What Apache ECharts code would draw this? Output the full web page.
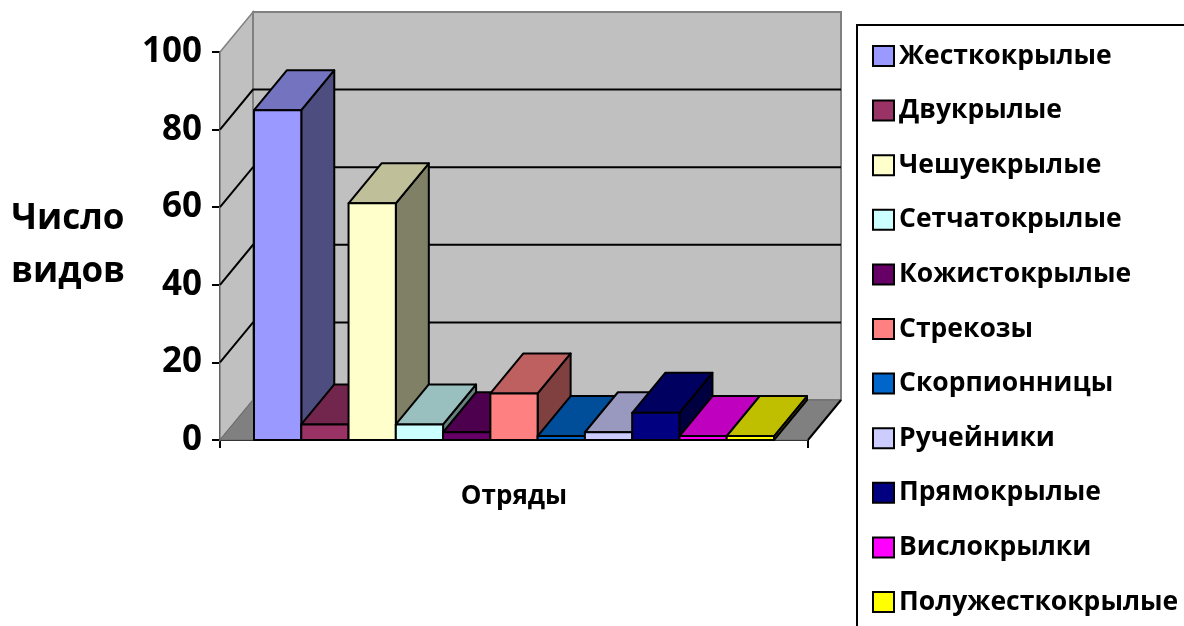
<!DOCTYPE html>
<html><head><meta charset="utf-8">
<script src="https://cdn.jsdelivr.net/npm/echarts@6/dist/echarts.min.js"></script>
<style>html,body{margin:0;padding:0;background:#fff}#c{width:1184px;height:626px}</style>
</head><body><div id="c"></div>
<script>
// ---- data ----
const categories = [''];
const axisTitleX = 'Отряды';
const axisTitleY = 'Число\nвидов';
const seriesNames = ['Жесткокрылые','Двукрылые','Чешуекрылые','Сетчатокрылые','Кожистокрылые','Стрекозы','Скорпионницы','Ручейники','Прямокрылые','Вислокрылки','Полужесткокрылые'];
const seriesValues = [85, 4, 61, 4, 2, 12, 1, 2, 7, 1, 1];
const yTicks = [0, 20, 40, 60, 80, 100];
const colors = ['#9999FF','#993366','#FFFFCC','#CCFFFF','#660066','#FF8080','#0066CC','#CCCCFF','#000080','#FF00FF','#FFFF00'];

// ---- style / 3D geometry ----
const DX = 33, DY = -40;        // depth offset in pixels
const GAP = 68 / 588;           // gap fraction of category band
const N = seriesNames.length;
const FONT = 'Open Sans';

function shade(hex, f) {
  const n = parseInt(hex.slice(1), 16);
  const r = Math.round(((n >> 16) & 255) * f), g = Math.round(((n >> 8) & 255) * f), b = Math.round((n & 255) * f);
  return 'rgb(' + r + ',' + g + ',' + b + ')';
}

function wallsRender(params, api) {
  const ymin = yTicks[0], ymax = yTicks[yTicks.length - 1];
  const c0 = api.coord([0, ymin]);
  const c1 = api.coord([0, ymax]);
  const band = api.size([1, 0])[0];
  const xL = c0[0] - band / 2, xR = c0[0] + band / 2;
  const y0 = c0[1], y1 = c1[1];
  const ch = [];
  ch.push({type: 'polygon', shape: {points: [[xL, y1], [xL + DX, y1 + DY], [xL + DX, y0 + DY], [xL, y0]]},
    style: {fill: '#C0C0C0', stroke: '#808080', lineWidth: 1.5}});
  ch.push({type: 'rect', shape: {x: xL + DX, y: y1 + DY, width: xR - xL, height: y0 - y1},
    style: {fill: '#C0C0C0', stroke: '#808080', lineWidth: 2}});
  ch.push({type: 'polygon', shape: {points: [[xL, y0], [xL + DX, y0 + DY], [xR + DX, y0 + DY], [xR, y0]]},
    style: {fill: '#808080', stroke: '#6a6a6a', lineWidth: 1}});
  ch.push({type: 'line', shape: {x1: xR, y1: y0, x2: xR + DX, y2: y0 + DY}, style: {stroke: '#000', lineWidth: 2}});
  yTicks.forEach(function (v) {
    if (v === ymin || v === ymax) return;
    const y = api.coord([0, v])[1];
    ch.push({type: 'polyline', shape: {points: [[xL, y], [xL + DX, y + DY], [xR + DX, y + DY]]},
      style: {stroke: '#000', lineWidth: 2, fill: null}});
  });
  return {type: 'group', children: ch};
}

function barRender(i) {
  return function (params, api) {
    const v = api.value(1);
    const c = api.coord([0, 0]);
    const t = api.coord([0, v]);
    const band = api.size([1, 0])[0];
    const gap = band * GAP;
    const bw = (band - gap) / N;
    const x0 = c[0] - band / 2 + gap / 2 + i * bw, x1 = x0 + bw;
    const yb = c[1], yt = t[1];
    const col = colors[i];
    const st = function (fill) { return {fill: fill, stroke: '#000', lineWidth: 2, lineJoin: 'round'}; };
    return {type: 'group', children: [
      {type: 'polygon', shape: {points: [[x1, yt], [x1 + DX, yt + DY], [x1 + DX, yb + DY], [x1, yb]]}, style: st(shade(col, 0.5))},
      {type: 'polygon', shape: {points: [[x0, yt], [x1, yt], [x1 + DX, yt + DY], [x0 + DX, yt + DY]]}, style: st(shade(col, 0.75))},
      {type: 'rect', shape: {x: x0, y: yt, width: bw, height: yb - yt}, style: st(col)}
    ]};
  };
}

const series = [{
  type: 'custom', name: '__walls', renderItem: wallsRender, data: [[0, 0]],
  encode: {x: 0, y: 1}, silent: true, z: 1
}];
seriesNames.forEach(function (name, i) {
  series.push({
    type: 'custom', name: name, renderItem: barRender(i),
    data: [[0, seriesValues[i]]], encode: {x: 0, y: 1},
    itemStyle: {color: colors[i]}, z: 2
  });
});

const chart = echarts.init(document.getElementById('c'), null, {renderer: 'canvas'});
chart.setOption({
  backgroundColor: '#fff',
  animation: false,
  textStyle: {fontFamily: FONT},
  grid: {left: 220, top: 52, width: 588, height: 388, containLabel: false},
  xAxis: {
    type: 'category', data: categories,
    name: axisTitleX, nameLocation: 'middle', nameGap: 44,
    nameTextStyle: {fontFamily: FONT, fontWeight: 'bold', fontSize: 26, color: '#000'},
    axisLine: {lineStyle: {color: '#000', width: 2}},
    axisTick: {show: true, length: 8, lineStyle: {color: '#000', width: 2}},
    axisLabel: {show: false},
    splitLine: {show: false}
  },
  yAxis: {
    type: 'value', min: 0, max: 100, interval: 20,
    name: axisTitleY, nameLocation: 'middle', nameRotate: 0, nameGap: 152,
    nameTextStyle: {fontFamily: FONT, fontWeight: 'bold', fontSize: 35, color: '#000', align: 'center', lineHeight: 53},
    axisLine: {show: true, lineStyle: {color: '#000', width: 2}},
    axisTick: {show: true, length: 8, lineStyle: {color: '#000', width: 2}},
    axisLabel: {fontFamily: FONT, fontWeight: 'bold', fontSize: 35, color: '#000', margin: 18},
    splitLine: {show: false}
  },
  legend: {
    data: seriesNames, orient: 'vertical', left: 857, top: 25, height: 800,
    padding: [16, 20, 20, 15], borderColor: '#000', borderWidth: 2, backgroundColor: '#fff',
    icon: 'rect', itemWidth: 21, itemHeight: 20, itemGap: 24.6, itemTextGap: 12,
    itemStyle: {borderColor: '#000', borderWidth: 2},
    textStyle: {fontFamily: FONT, fontWeight: 'bold', fontSize: 26.5, color: '#000', lineHeight: 30},
    selectedMode: false
  },
  series: series
});
</script></body></html>
